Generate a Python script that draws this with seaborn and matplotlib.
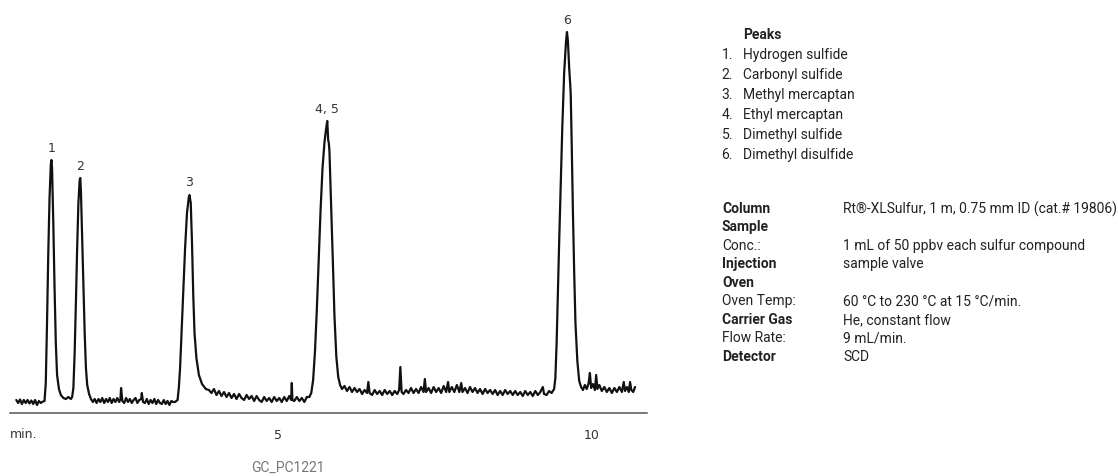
import matplotlib
matplotlib.use("Agg")
import matplotlib.pyplot as plt
import pandas as pd
import seaborn as sns

# chromatogramm, werte (zeit in min, signal in willk. einheiten)
rt_min = [
    # basislinie vor peak 1
    0.83, 0.86, 0.89, 0.92, 0.95, 0.98, 1.01, 1.04, 1.07, 1.10, 1.13, 1.16, 1.19, 1.22,
    # peak 1
    1.24, 1.28, 1.30, 1.32, 1.34, 1.36, 1.38, 1.39, 1.40, 1.42, 1.44, 1.46, 1.48, 1.51, 1.54, 1.58, 1.62, 1.66,
    # peak 2
    1.70, 1.72, 1.74, 1.76, 1.78, 1.80, 1.82, 1.84, 1.85, 1.86, 1.88, 1.90, 1.92, 1.94, 1.96, 1.99, 2.02,
    # basislinie bis peak 3
    2.05, 2.08, 2.11, 2.14, 2.17, 2.20, 2.23, 2.26, 2.29, 2.32, 2.35, 2.38, 2.41, 2.44, 2.47, 2.49, 2.50, 2.52,
    2.55, 2.58, 2.61, 2.64, 2.67, 2.70, 2.73, 2.76, 2.79, 2.82, 2.83, 2.85, 2.88, 2.91, 2.94, 2.97, 3.00, 3.03,
    3.06, 3.09, 3.12, 3.15, 3.18, 3.21, 3.24, 3.27, 3.30, 3.33,
    # peak 3
    3.36, 3.40, 3.42, 3.44, 3.46, 3.49, 3.52, 3.55, 3.58, 3.59, 3.61, 3.63, 3.65, 3.67, 3.70, 3.74, 3.79, 3.85,
    # basislinie bis peak 4,5
    3.90, 3.94, 3.98, 4.02, 4.06, 4.10, 4.14, 4.18, 4.22, 4.26, 4.30, 4.34, 4.38, 4.42, 4.46, 4.50, 4.54, 4.58,
    4.62, 4.66, 4.70, 4.74, 4.78, 4.82, 4.86, 4.90, 4.94, 4.98, 5.02, 5.06, 5.10, 5.14, 5.18, 5.21, 5.22, 5.23,
    5.26, 5.30, 5.34, 5.38, 5.42, 5.46,
    # peak 4,5
    5.50, 5.53, 5.56, 5.59, 5.62, 5.65, 5.68, 5.71, 5.74, 5.76, 5.775, 5.785, 5.80, 5.81, 5.82, 5.84, 5.86,
    5.88, 5.90, 5.93, 5.96, 5.99,
    # basislinie bis peak 6
    6.02, 6.06, 6.10, 6.14, 6.18, 6.22, 6.26, 6.30, 6.34, 6.38, 6.42, 6.44, 6.46, 6.50, 6.54, 6.58, 6.62, 6.66,
    6.70, 6.74, 6.78, 6.82, 6.86, 6.90, 6.93, 6.95, 6.97, 7.00, 7.04, 7.08, 7.12, 7.16, 7.20, 7.24, 7.28, 7.32,
    7.34, 7.36, 7.40, 7.44, 7.48, 7.52, 7.56, 7.60, 7.64, 7.68, 7.71, 7.73, 7.77, 7.81, 7.85, 7.89, 7.92, 7.94,
    7.98, 8.02, 8.06, 8.10, 8.14, 8.18, 8.22, 8.26, 8.30, 8.34, 8.38, 8.42, 8.46, 8.50, 8.54, 8.58, 8.62, 8.66,
    8.70, 8.74, 8.78, 8.82, 8.86, 8.90, 8.94, 8.98, 9.02, 9.06, 9.10, 9.14, 9.18, 9.22, 9.24, 9.28, 9.32, 9.36,
    # peak 6
    9.40, 9.42, 9.44, 9.46, 9.48, 9.50, 9.53, 9.56, 9.59, 9.605, 9.62, 9.64, 9.655, 9.665, 9.68, 9.70, 9.72,
    9.74, 9.77, 9.80,
    # basislinie ende
    9.83, 9.86, 9.89, 9.92, 9.95, 9.97, 9.99, 10.02, 10.05, 10.07, 10.09, 10.12, 10.16, 10.20, 10.24, 10.28,
    10.32, 10.36, 10.40, 10.44, 10.48, 10.51, 10.53, 10.56, 10.59, 10.61, 10.63, 10.66, 10.69,
]

signal = [
    13, 10, 13.5, 9, 13, 10, 13, 9.5, 12.5, 9, 13, 8, 12, 10,
    11, 12, 30, 90, 160, 215, 248, 253, 245, 190, 125, 70, 38, 24, 18, 15, 14, 16,
    14, 16, 25, 60, 110, 165, 210, 233, 235, 222, 175, 125, 80, 45, 28, 19, 14,
    11, 14, 10, 14, 11, 15, 10, 14, 11, 15, 10, 14, 11, 15, 11, 14, 25, 12,
    10, 15, 11, 14, 10, 13, 15, 10, 13, 14, 20, 11, 10, 14, 9, 13, 10, 14,
    9, 13, 10, 9, 13, 9, 12, 8, 12, 11,
    11, 13, 25, 45, 75, 118, 165, 200, 216, 218, 210, 170, 118, 80, 55, 38, 29, 24,
    23, 20, 24, 18, 22, 17, 21, 16, 20, 15, 19, 14, 19, 15, 13, 18, 14, 17,
    12, 17, 13, 11, 16, 12, 15, 11, 16, 12, 15, 11, 16, 12, 17, 13, 30, 13,
    12, 16, 12, 15, 11, 16,
    16, 20, 33, 62, 105, 155, 205, 245, 270, 281, 288, 292, 273, 270, 262, 222, 180,
    140, 97, 56, 36, 28,
    24, 27, 22, 26, 21, 25, 21, 24, 19, 23, 20, 31, 20, 18, 23, 19, 22, 18,
    23, 19, 22, 18, 22, 19, 23, 46, 21, 19, 23, 20, 25, 20, 24, 20, 26, 21,
    34, 21, 25, 20, 26, 21, 25, 20, 27, 21, 31, 21, 26, 21, 28, 21, 30, 21,
    25, 20, 26, 21, 25, 20, 24, 19, 24, 20, 23, 19, 23, 18, 22, 18, 23, 19,
    22, 18, 22, 18, 21, 17, 22, 18, 21, 17, 22, 18, 21, 26, 19, 18, 22, 20,
    24, 35, 70, 120, 170, 215, 285, 340, 372, 381, 372, 345, 330, 318, 270, 200, 140,
    90, 52, 32,
    26, 23, 28, 24, 30, 40, 25, 29, 23, 38, 24, 28, 22, 26, 21, 25,
    20, 25, 21, 26, 21, 31, 22, 26, 21, 31, 23, 21, 26,
]

# peak beschriftungen
peak_labels = ["1", "2", "3", "4, 5", "6"]
peak_rt = [1.39, 1.85, 3.59, 5.785, 9.605]

# achse
tick_pos = [5, 10]
tick_labels = ["5", "10"]

# legende rechts
peak_names = ["Hydrogen sulfide", "Carbonyl sulfide", "Methyl mercaptan",
              "Ethyl mercaptan", "Dimethyl sulfide", "Dimethyl disulfide"]
cond_keys = ["Column", "Sample", "Conc.:", "Injection", "Oven", "Oven Temp:",
             "Carrier Gas", "Flow Rate:", "Detector"]
cond_values = ["Rt®-XLSulfur, 1 m, 0.75 mm ID (cat.# 19806)", "",
               "1 mL of 50 ppbv each sulfur compound", "sample valve", "",
               "60 °C to 230 °C at 15 °C/min.", "He, constant flow", "9 mL/min.", "SCD"]
cond_bold = [True, True, False, True, True, False, True, False, True]

sns.set_style("white")
txt_font = ["Roboto", "DejaVu Sans"]
txt_size = 10
W, H = 1118, 477

fig = plt.figure(figsize=(W / 100, H / 100), dpi=100)
ax = fig.add_axes([10 / W, (H - 414) / H, 637 / W, 414 / H])

df = pd.DataFrame({"rt": rt_min, "signal": signal})
sns.lineplot(data=df, x="rt", y="signal", ax=ax, color="#111111",
             linewidth=1.6, estimator=None, sort=False)

ax.set_xlim(0.73, 10.88)
ax.set_ylim(0, 414)
for s in ["left", "top", "right"]:
    ax.spines[s].set_visible(False)
ax.spines["bottom"].set_color("#555555")
ax.spines["bottom"].set_linewidth(1.1)
ax.set_yticks([])
ax.set_xticks(tick_pos)
ax.set_xticklabels(tick_labels, family="DejaVu Sans")
ax.tick_params(axis="x", direction="out", length=5, width=1, color="#555555",
               pad=6, labelsize=9, labelcolor="#333333")
ax.set_xlabel("")
ax.set_ylabel("")

# labels über den peaks
for lab, t in zip(peak_labels, peak_rt):
    top = df.loc[(df["rt"] - t).abs() < 0.05, "signal"].max()
    ax.text(t, top + 13, lab, ha="center", va="center", fontsize=9,
            color="#333333", family="DejaVu Sans")

fig.text(10 / W, 1 - 435 / H, "min.", ha="left", va="center", fontsize=9,
         color="#333333", family="DejaVu Sans")
fig.text(288 / W, 1 - 468 / H, "GC_PC1221", ha="center", va="center", fontsize=10,
         color="#777777", family=txt_font)

# peak liste
fig.text(743 / W, 1 - 35 / H, "Peaks", ha="left", va="center", fontsize=txt_size,
         fontweight="bold", color="#222222", family=txt_font)
for i, name in enumerate(peak_names):
    y = 1 - (55 + 20 * i) / H
    fig.text(733 / W, y, f"{i + 1}.", ha="right", va="center", fontsize=txt_size,
             color="#222222", family=txt_font)
    fig.text(743 / W, y, name, ha="left", va="center", fontsize=txt_size,
             color="#222222", family=txt_font)

# bedingungen
for i, (k, v, b) in enumerate(zip(cond_keys, cond_values, cond_bold)):
    y = 1 - (209 + 18.5 * i) / H
    fig.text(722 / W, y, k, ha="left", va="center", fontsize=txt_size,
             fontweight="bold" if b else "normal", color="#222222", family=txt_font)
    if v:
        fig.text(843 / W, y, v, ha="left", va="center", fontsize=txt_size,
                 color="#222222", family=txt_font)

plt.savefig("out.png", dpi=100)
